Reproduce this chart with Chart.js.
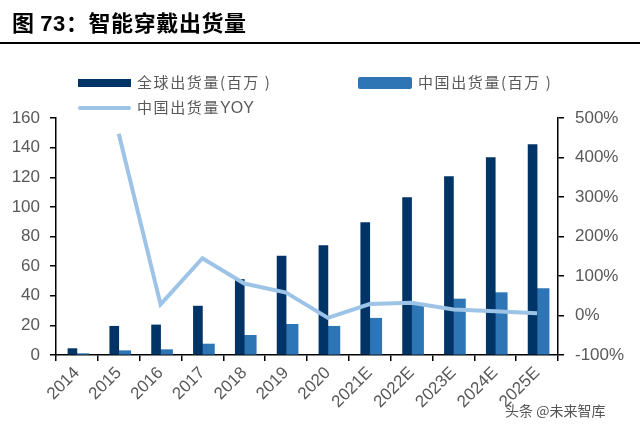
<!DOCTYPE html>
<html>
<head>
<meta charset="utf-8">
<script src="https://cdn.jsdelivr.net/npm/chart.js@4"></script>
<style>
  body { margin: 0; background: #fff; }
  #wrap { position: relative; width: 640px; height: 429px; overflow: hidden; }
  #wrap canvas { position: absolute; left: 0; top: 0; }
  .title {
    position: absolute; left: 12px; top: 5px;
    font-family: "Noto Sans CJK SC", sans-serif; font-weight: bold;
    font-size: 22px; letter-spacing: 0.6px; color: #000; white-space: nowrap;
  }
  .title .num { font-family: "Liberation Sans", Arial, sans-serif; }
  .rule { position: absolute; left: 0; top: 42px; width: 640px; height: 2px; background: #000; }
  .leg {
    position: absolute; font-family: "Noto Sans CJK SC", sans-serif;
    font-size: 15px; letter-spacing: 1.6px; color: #595959; white-space: nowrap; line-height: 18px;
  }
  .leg .lat { font-family: "Liberation Sans", Arial, sans-serif; font-size: 16px; letter-spacing: 0; }
  .sw { position: absolute; }
  .mark {
    position: absolute; left: 505px; top: 400px;
    font-family: "Noto Sans CJK SC", sans-serif; font-size: 14px; color: #555;
  }
</style>
</head>
<body>
<div id="wrap">
  <canvas id="chart"></canvas>
  <div class="title">图 <span class="num">73</span>：智能穿戴出货量</div>
  <div class="rule"></div>
  <div class="sw" style="left:78px;top:79px;width:53px;height:8px;background:#003366"></div>
  <div class="leg" style="left:137px;top:73px">全球出货量(百万 )</div>
  <div class="sw" style="left:358px;top:77px;width:54px;height:12px;background:#2E75B6;border-radius:2px"></div>
  <div class="leg" style="left:418px;top:73px">中国出货量(百万 )</div>
  <div class="sw" style="left:78px;top:106px;width:53px;height:4px;background:#9DC3E6;border-radius:2px"></div>
  <div class="leg" style="left:137px;top:98px">中国出货量<span class="lat">YOY</span></div>
  <div class="mark">头条 @未来智库</div>
</div>
<script>
// 数据
const years = ["2014", "2015", "2016", "2017", "2018", "2019", "2020",
  "2021E", "2022E", "2023E", "2024E", "2025E"];
const globalShip = [4.3, 19.4, 20.3, 33, 51, 66.7, 73.9, 89.4, 106.3, 120.5, 133.3, 142];
const chinaShip = [0.9, 2.9, 3.6, 7.4, 13.3, 20.7, 19.4, 24.8, 33.8, 37.8, 42.1, 44.8];
const chinaYoy = [null, 460, 28, 145, 81, 58, -6, 29, 32, 15, 11, 6];

const tickFont = { family: "'Liberation Sans', Arial, sans-serif", size: 17 };
const tickColor = "#595959";

const ctx = document.getElementById("chart").getContext("2d");
new Chart(ctx, {
  type: "bar",
  data: {
    labels: years,
    datasets: [
      {
        label: "全球出货量(百万 )",
        data: globalShip,
        backgroundColor: "#003366",
        barThickness: 9,
        yAxisID: "y",
        order: 1,
      },
      {
        label: "中国出货量(百万 )",
        data: chinaShip,
        backgroundColor: "#2E75B6",
        barThickness: 12,
        yAxisID: "y",
        order: 1,
      },
      {
        type: "line",
        label: "中国出货量YOY",
        data: chinaYoy,
        borderColor: "#9DC3E6",
        borderWidth: 4,
        pointRadius: 0,
        tension: 0,
        yAxisID: "y1",
        order: 0,
      },
    ],
  },
  options: {
    responsive: true,
    maintainAspectRatio: false,
    animation: false,
    layout: { padding: { top: 118, left: 0, right: 0, bottom: 0 } },
    plugins: {
      legend: { display: false },
      tooltip: { enabled: false },
    },
    scales: {
      x: {
        grid: { display: true, drawOnChartArea: false, color: "#000", tickLength: 6, lineWidth: 1.5 },
        border: { color: "#000", width: 1.5 },
        ticks: { color: tickColor, font: tickFont, minRotation: 45, maxRotation: 45, padding: 2, autoSkip: false },
        afterFit(scale) { scale.height = 74; },
      },
      y: {
        position: "left",
        min: 0,
        max: 160,
        grid: { drawOnChartArea: false, color: "#000", tickLength: 6, lineWidth: 1.5 },
        border: { color: "#000", width: 1.5 },
        ticks: { stepSize: 20, color: tickColor, font: tickFont, padding: 10 },
        afterFit(scale) { scale.width = 56; },
      },
      y1: {
        position: "right",
        min: -100,
        max: 500,
        grid: { drawOnChartArea: false, color: "#000", tickLength: 6, lineWidth: 1.5 },
        border: { color: "#000", width: 1.5 },
        ticks: {
          stepSize: 100,
          color: tickColor,
          font: tickFont,
          padding: 11,
          callback: (v) => v + "%",
        },
        afterFit(scale) { scale.width = 82; },
      },
    },
  },
});
</script>
</body>
</html>
